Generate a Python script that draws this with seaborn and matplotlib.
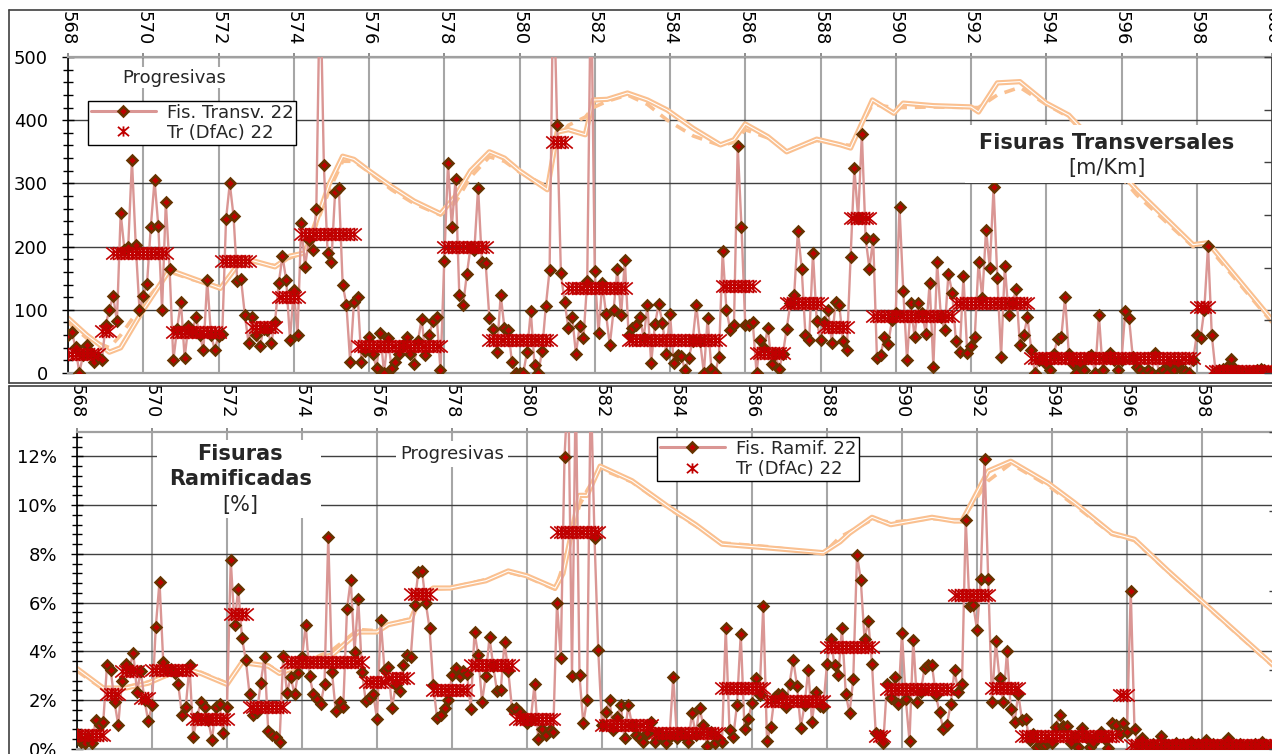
import numpy as np
import pandas as pd
import matplotlib
matplotlib.use("Agg")
import matplotlib.pyplot as plt
import seaborn as sns
from matplotlib.path import Path
from matplotlib.lines import Line2D
from matplotlib.patches import Rectangle
from matplotlib.ticker import MultipleLocator, FuncFormatter

# ---------------- data ----------------
KM0 = 568.0
STEP = 0.1

transv_vals = [
    60, 65, 41, 0, 28, 45, 31, 18, 25, 20,
    76, 100, 122, 82, 253, 195, 200, 337, 203, 100,
    122, 141, 231, 305, 233, 100, 270, 165, 20, 70,
    113, 24, 75, 65, 88, 60, 37, 147, 60, 37,
    58, 62, 243, 300, 248, 145, 148, 92, 47, 88,
    60, 42, 70, 68, 47, 80, 142, 185, 147, 53,
    132, 60, 237, 168, 210, 195, 260, 640, 329, 190,
    176, 287, 292, 140, 108, 17, 112, 120, 18, 35,
    57, 30, 8, 63, 0, 55, 8, 18, 30, 45,
    57, 30, 15, 50, 86, 28, 60, 82, 89, 4,
    177, 332, 231, 307, 124, 107, 156, 200, 194, 293,
    176, 174, 87, 70, 33, 124, 71, 68, 17, 0,
    0, 0, 33, 98, 12, 0, 35, 106, 163, 640,
    392, 158, 112, 71, 89, 30, 75, 55, 146, 640,
    161, 63, 143, 93, 44, 99, 165, 91, 179, 60,
    71, 76, 89, 55, 107, 16, 77, 109, 79, 30,
    94, 16, 29, 27, 4, 24, 50, 107, 50, 0,
    87, 6, 0, 25, 193, 100, 68, 76, 359, 231,
    76, 76, 80, 0, 53, 40, 71, 15, 30, 7,
    30, 70, 110, 123, 225, 165, 60, 53, 190, 82,
    53, 80, 100, 48, 112, 107, 50, 37, 183, 324,
    245, 378, 213, 165, 212, 24, 29, 57, 46, 84,
    95, 262, 130, 20, 110, 57, 110, 95, 62, 142,
    10, 175, 89, 68, 157, 127, 50, 33, 153, 31,
    42, 57, 175, 119, 227, 166, 294, 150, 26, 170,
    91, 110, 133, 44, 60, 88, 37, 0, 20, 22,
    15, 5, 30, 54, 57, 120, 30, 15, 0, 15,
    5, 25, 29, 0, 91, 5, 25, 31, 20, 5,
    20, 98, 87, 25, 10, 5, 0, 5, 0, 31,
    0, 5, 0, 15, 5, 15, 5, 3, 0, 20,
    60, 55, 100, 201, 60, 2, 5, 6, 10, 22,
    8, 3, 2, 0, 2, 3, 5, 6, 4, 3,
    3,
]

ramif_vals = [
    0.6, 0.3, 0.23, 0.5, 0.23, 1.18, 1.0, 1.1, 3.45, 3.23,
    1.93, 0.98, 2.8, 3.5, 3.3, 3.95, 2.34, 3.2, 2.0, 1.14,
    1.8, 4.99, 6.86, 3.56, 3.3, 3.3, 3.1, 2.65, 1.41, 1.72,
    3.43, 0.5, 1.3, 1.93, 1.72, 1.18, 0.37, 1.72, 1.85, 0.64,
    1.72, 7.75, 5.09, 6.58, 4.55, 3.67, 2.27, 1.38, 1.5, 2.72,
    3.77, 0.73, 0.57, 0.5, 0.27, 3.8, 2.3, 2.95, 2.24, 3.13,
    3.77, 5.09, 3.0, 2.27, 2.07, 1.86, 2.67, 8.7, 3.15, 1.55,
    1.93, 1.72, 5.74, 6.94, 3.97, 6.15, 3.15, 1.96, 2.09, 2.27,
    1.22, 5.3, 3.23, 3.36, 1.69, 2.61, 2.37, 3.43, 3.84, 3.77,
    5.9, 7.24, 7.31, 6.0, 4.96, 2.64, 1.28, 1.41, 1.7, 2.0,
    3.02, 3.32, 3.0, 3.18, 3.09, 1.66, 4.79, 3.84, 1.93, 2.99,
    4.59, 3.4, 2.37, 2.41, 4.38, 3.2, 1.66, 1.69, 1.52, 1.3,
    1.05, 1.2, 2.65, 0.41, 0.84, 0.57, 0.77, 0.71, 5.99, 3.73,
    11.97, 15.0, 3.0, 15.0, 3.02, 1.05, 2.0, 15.0, 8.67, 4.04,
    1.0, 1.5, 2.0, 0.77, 1.31, 1.79, 0.44, 1.79, 1.0, 0.57,
    0.44, 0.3, 0.64, 1.12, 0.3, 0.64, 0.5, 0.23, 0.5, 2.95,
    0.44, 0.64, 0.5, 0.3, 1.46, 0.57, 1.69, 0.98, 0.14, 0.71,
    0.23, 0.44, 0.3, 4.96, 0.77, 0.5, 1.82, 4.72, 0.84, 1.22,
    1.9, 2.93, 2.2, 5.85, 0.33, 0.91, 2.14, 2.27, 2.27, 1.72,
    2.68, 3.67, 2.58, 0.88, 1.79, 3.26, 1.12, 2.34, 1.77, 1.72,
    3.5, 4.52, 3.43, 3.02, 4.96, 2.27, 1.46, 2.86, 7.96, 6.94,
    4.52, 5.26, 3.5, 0.64, 0.57, 0.23, 2.68, 2.09, 2.95, 1.86,
    4.76, 2.04, 0.33, 4.49, 1.93, 2.34, 3.32, 3.45, 3.43, 2.23,
    1.5, 0.84, 1.0, 1.86, 3.23, 2.34, 2.68, 9.4, 5.85, 5.9,
    4.9, 6.96, 11.9, 6.96, 1.93, 4.41, 2.91, 1.93, 4.0, 1.63,
    1.09, 2.27, 1.18, 1.22, 0.37, 0.6, 0.09, 0.16, 0.16, 0.3,
    0.23, 0.91, 1.39, 0.95, 0.95, 0.23, 0.5, 0.09, 0.88, 0.5,
    0.09, 0.23, 0.5, 0.71, 0.4, 0.05, 1.05, 0.98, 0.6, 1.05,
    0.71, 6.49, 0.8, 0.2, 0.44, 0.2, 0.1, 0.2, 0.1, 0.54,
    0.2, 0.15, 0.1, 0.25, 0.1, 0.2, 0.15, 0.3, 0.1, 0.2,
    0.15, 0.37, 0.1, 0.2, 0.15, 0.1, 0.25, 0.44, 0.1, 0.15,
    0.2, 0.1, 0.15, 0.1, 0.2, 0.1, 0.3, 0.15, 0.1, 0.1,
    0.1,
]

# homogeneous sections (Tr DfAc): start km, end km, value
transv_seg_start = [568.0, 568.9, 569.2, 570.8, 572.1, 572.9, 573.6, 574.2, 575.7, 578.0, 579.2, 580.9,
                    581.3, 582.9, 585.4, 586.3, 587.1, 588.1, 588.8, 589.4, 591.6, 593.6, 598.0, 598.4]
transv_seg_end = [568.8, 569.1, 570.6, 572.0, 572.8, 573.5, 574.1, 575.6, 577.9, 579.1, 580.8, 581.2,
                  582.8, 585.3, 586.2, 587.0, 588.0, 588.7, 589.3, 591.5, 593.5, 597.9, 598.3, 600.0]
transv_seg_val = [30, 67, 190, 65, 177, 73, 120, 220, 42, 200, 52, 365,
                  135, 52, 137, 31, 111, 73, 245, 90, 110, 24, 105, 3]

ramif_seg_start = [568.0, 568.8, 569.2, 569.7, 570.0, 571.1, 572.1, 572.6, 573.6, 575.7, 576.3, 576.9, 577.5,
                   578.5, 579.7, 580.8, 582.0, 583.4, 585.2, 586.4, 588.0, 589.3, 589.6, 591.4, 592.4,
                   593.2, 595.8, 596.1]
ramif_seg_end = [568.7, 569.1, 569.6, 569.9, 571.0, 572.0, 572.5, 573.5, 575.6, 576.2, 576.8, 577.4, 578.4,
                 579.6, 580.7, 581.9, 583.3, 585.1, 586.3, 587.9, 589.2, 589.5, 591.3, 592.3, 593.1,
                 595.7, 596.0, 600.0]
ramif_seg_val = [0.57, 2.27, 3.18, 2.09, 3.23, 1.25, 5.54, 1.73, 3.56, 2.75, 2.91, 6.35, 2.41,
                 3.43, 1.25, 8.9, 0.99, 0.64, 2.5, 1.96, 4.18, 0.54, 2.47, 6.31, 2.5,
                 0.54, 2.2, 0.16]

# reference profile lines (orange), solid and dashed
prof_t_km = [568.0, 568.5, 569.1, 569.4, 570.0, 570.7, 571.3, 572.05, 572.65, 573.5, 573.9, 574.3, 574.6,
             574.95, 575.3, 575.6, 576.0, 576.6, 577.2, 577.9, 578.3, 578.7, 579.2, 579.6, 580.0, 580.74,
             581.0, 581.3, 581.75, 581.96, 582.33, 582.87, 583.4, 583.93, 584.62, 585.34, 585.7, 586.0,
             586.6, 587.1, 587.5, 587.9, 588.53, 588.8, 589.38, 589.95, 590.2, 591.0, 592.0, 592.2, 592.7,
             593.3, 594.0, 594.6, 594.9, 596.4, 597.9, 598.3, 600.0]
prof_t_a = [87, 60, 33, 40, 100, 163, 150, 134, 182, 168, 185, 190, 240, 300, 343, 338, 320, 295, 272, 252,
            280, 320, 350, 340, 320, 290, 381, 385, 377, 432, 433, 443, 432, 416, 387, 361, 369, 394, 374, 350,
            360, 370, 361, 356, 432, 411, 427, 423, 421, 413, 459, 461, 427, 408, 389, 290, 203, 206, 84]
prof_t_b = [80, 55, 40, 60, 110, 160, 148, 136, 178, 170, 182, 192, 235, 290, 335, 335, 318, 290, 268, 250,
            270, 310, 342, 335, 318, 295, 370, 392, 405, 420, 430, 440, 425, 400, 375, 360, 365, 385, 372, 352,
            360, 368, 362, 360, 425, 420, 420, 421, 420, 420, 440, 452, 425, 405, 385, 282, 200, 200, 80]

prof_r_km = [568.0, 568.7, 569.3, 569.9, 570.5, 570.9, 571.3, 572.0, 572.4, 573.1, 573.4, 573.95, 574.5, 574.8,
             575.5, 576.0, 576.3, 576.9, 577.15, 577.5, 577.95, 578.9, 579.5, 580.0, 580.75, 580.96, 581.4,
             581.6, 581.95, 582.8, 583.8, 584.5, 585.2, 586.4, 587.9, 588.35, 588.6, 589.2, 589.7, 590.8,
             591.4, 591.6, 592.3, 592.9, 593.9, 594.6, 595.6, 596.2, 597.1, 600.0]
prof_r_a = [3.3, 2.5, 2.5, 2.7, 3.1, 3.3, 3.1, 2.65, 3.55, 3.4, 3.1, 3.4, 3.75, 3.85, 4.8, 4.8, 5.1, 5.3, 6.2,
            6.6, 6.6, 6.9, 7.3, 7.1, 6.6, 7.2, 10.4, 10.4, 11.6, 11.0, 9.9, 9.2, 8.4, 8.25, 8.05, 8.5, 8.85,
            9.5, 9.2, 9.5, 9.35, 9.35, 11.4, 11.8, 10.9, 10.1, 8.85, 8.6, 7.3, 3.3]
prof_r_b = [3.2, 2.45, 2.55, 2.75, 3.05, 3.25, 3.15, 2.7, 3.5, 3.45, 3.15, 3.45, 3.85, 4.05, 4.9, 4.85, 5.1,
            5.35, 6.25, 6.55, 6.6, 6.95, 7.25, 7.05, 6.55, 7.5, 10.0, 10.6, 11.5, 10.95, 9.85, 9.15, 8.45,
            8.3, 8.0, 8.7, 8.9, 9.4, 9.3, 9.45, 9.4, 9.4, 11.0, 11.7, 10.8, 10.0, 8.8, 8.55, 7.25, 3.25]

xtick_vals = [568, 570, 572, 574, 576, 578, 580, 582, 584, 586, 588, 590, 592, 594, 596, 598, 600]
xtick_labels = [str(v) for v in xtick_vals]

# ---------------- style ----------------
sns.set_theme(style="white")
plt.rcParams["font.family"] = ["DejaVu Sans"]

PINK = "#DA9694"
RED = "#C00000"
BROWN = "#663300"
ORANGE = "#FAC090"
VGRID = "#A6A6A6"
HGRID = "#404040"
BORDER = "#404040"
FS = 13

STAR = Path([(-1.2, -1), (1.2, 1), (-1.2, 1), (1.2, -1), (0, -1.1), (0, 1.1)],
            [Path.MOVETO, Path.LINETO, Path.MOVETO, Path.LINETO, Path.MOVETO, Path.LINETO])

W, H = 1272, 754
fig = plt.figure(figsize=(W / 100, H / 100), dpi=100)


def seg_frame(starts, ends, vals):
    rows = []
    for s, e, v in zip(starts, ends, vals):
        for x in np.round(np.arange(s, e + STEP / 2, STEP), 1):
            rows.append((x, v))
    return pd.DataFrame(rows, columns=["km", "v"])


def draw_panel(rect, ymax, ymajor, yminor, yfmt, values, ss, se, sv, pk, pa, pb, nright,
               xpad):
    ax = fig.add_axes(rect)
    km = np.round(KM0 + STEP * np.arange(len(values)), 1)
    df = pd.DataFrame({"km": km, "v": values})

    ax.plot(pk, pb, color=ORANGE, lw=2.6, dashes=(3.0, 2.2), zorder=2)
    ax.plot(pk, pa, color=ORANGE, lw=3.8, zorder=2.1, solid_joinstyle="round")
    ax.plot(pk, pa, color="white", lw=0.8, zorder=2.2, solid_joinstyle="round")

    sns.lineplot(data=df, x="km", y="v", ax=ax, color=PINK, lw=1.7, marker="D",
                 markersize=5, markerfacecolor=RED, markeredgecolor=BROWN,
                 markeredgewidth=1.8, estimator=None, sort=False, zorder=3)

    sdf = seg_frame(ss, se, sv)
    sns.scatterplot(data=sdf, x="km", y="v", ax=ax, marker=STAR, s=110, color=RED,
                    edgecolor=RED, linewidth=1.2, zorder=4, legend=False)

    ax.set_xlim(568, 600)
    ax.set_ylim(0, ymax)
    ax.set_xlabel("")
    ax.set_ylabel("")
    ax.set_xticks(xtick_vals)
    ax.set_xticklabels(xtick_labels, rotation=-90)
    ax.xaxis.tick_top()
    ax.tick_params(axis="x", which="major", top=True, bottom=False, labeltop=True,
                   labelbottom=False, direction="out", length=3, color="#808080",
                   labelsize=FS, pad=xpad, labelcolor="black")
    ax.yaxis.set_major_locator(MultipleLocator(ymajor))
    ax.yaxis.set_minor_locator(MultipleLocator(yminor))
    ax.yaxis.set_major_formatter(FuncFormatter(yfmt))
    ax.tick_params(axis="y", which="major", left=True, direction="inout", length=9,
                   width=1, color="black", labelsize=FS, pad=10, labelcolor="black")
    ax.tick_params(axis="y", which="minor", left=True, direction="inout", length=7,
                   width=1, color="black")
    ax.grid(False)
    ax.xaxis.grid(True, which="major", color=VGRID, lw=1.5)
    ax.yaxis.grid(True, which="major", color=HGRID, lw=1.0)
    ax.set_axisbelow(True)
    for side, col, lw in (("left", "black", 1.2), ("top", "#A0A0A0", 1.6),
                          ("bottom", "#A0A0A0", 1.6), ("right", "#404040", 1.2)):
        ax.spines[side].set_color(col)
        ax.spines[side].set_linewidth(lw)

    axr = ax.twinx()
    axr.set_ylim(0, nright)
    axr.set_yticks(range(nright + 1))
    axr.tick_params(axis="y", right=True, left=False, labelright=False, direction="in",
                    length=6, width=1, color="#404040")
    axr.grid(False)
    for sp in axr.spines.values():
        sp.set_visible(False)
    return ax


def legend_handles():
    h1 = Line2D([], [], color=PINK, lw=2.2, marker="D", ms=5, mfc=RED, mec=BROWN, mew=1.8)
    h2 = Line2D([], [], ls="none", marker=STAR, ms=8, mfc="none", mec=RED, mew=1.3)
    return [h1, h2]


def add_legend(ax, labels, anchor):
    leg = ax.legend(legend_handles(), labels, loc="upper left", bbox_to_anchor=anchor,
                    frameon=True, fancybox=False, framealpha=1, edgecolor="black",
                    fontsize=FS, handlelength=3.6, handletextpad=0.6, borderpad=0.15,
                    labelspacing=0.12, borderaxespad=0)
    leg.get_frame().set_linewidth(1.0)
    leg.set_zorder(10)
    return leg


# ---------------- top panel ----------------
ax1 = draw_panel([68 / W, 1 - 373 / H, 1204 / W, 316 / H], 500, 100, 20,
                 lambda v, p: f"{v:.0f}", transv_vals, transv_seg_start, transv_seg_end,
                 transv_seg_val, prof_t_km, prof_t_a, prof_t_b, 6, 5.5)
ax1.text(0.088, 0.934, "Progresivas", transform=ax1.transAxes, ha="center", va="center",
         fontsize=FS, zorder=9, bbox=dict(fc="white", ec="none", pad=1))
add_legend(ax1, ["Fis. Transv. 22", "Tr (DfAc) 22"], (0.0166, 0.861))
ax1.add_patch(Rectangle((0.745, 0.601), 0.237, 0.184, transform=ax1.transAxes,
                        fc="white", ec="none", zorder=8))
ax1.text(0.863, 0.728, "Fisuras Transversales", transform=ax1.transAxes, ha="center",
         va="center", fontsize=15, fontweight="bold", zorder=9)
ax1.text(0.863, 0.649, "[m/Km]", transform=ax1.transAxes, ha="center", va="center",
         fontsize=15, zorder=9)

# ---------------- bottom panel ----------------
ax2 = draw_panel([77 / W, 1 - 749 / H, 1200 / W, 317 / H], 13, 2, 0.4,
                 lambda v, p: f"{v:.0f}%", ramif_vals, ramif_seg_start, ramif_seg_end,
                 ramif_seg_val, prof_r_km, prof_r_a, prof_r_b, 4, 7)
ax2.add_patch(Rectangle((0.0667, 0.729), 0.137, 0.246, transform=ax2.transAxes,
                        fc="white", ec="none", zorder=8))
ax2.text(0.136, 0.931, "Fisuras", transform=ax2.transAxes, ha="center", va="center",
         fontsize=15, fontweight="bold", zorder=9)
ax2.text(0.136, 0.852, "Ramificadas", transform=ax2.transAxes, ha="center", va="center",
         fontsize=15, fontweight="bold", zorder=9)
ax2.text(0.136, 0.770, "[%]", transform=ax2.transAxes, ha="center", va="center",
         fontsize=15, zorder=9)
ax2.text(0.3125, 0.931, "Progresivas", transform=ax2.transAxes, ha="center", va="center",
         fontsize=FS, zorder=9, bbox=dict(fc="white", ec="none", pad=3))
add_legend(ax2, ["Fis. Ramif. 22", "Tr (DfAc) 22"], (0.4833, 0.984))

# ---------------- chart-area borders ----------------
def fline(xs, ys):
    fig.add_artist(Line2D(xs, ys, color=BORDER, lw=1.2, transform=fig.transFigure))

fline([9 / W, 1], [1 - 10 / H, 1 - 10 / H])
fline([9 / W, 9 / W], [1 - 10 / H, 1 - 383 / H])
fline([9 / W, 1], [1 - 383 / H, 1 - 383 / H])
fline([9 / W, 1], [1 - 385.5 / H, 1 - 385.5 / H])
fline([9 / W, 9 / W], [1 - 385.5 / H, 0])

fig.savefig("out.png", dpi=100)
